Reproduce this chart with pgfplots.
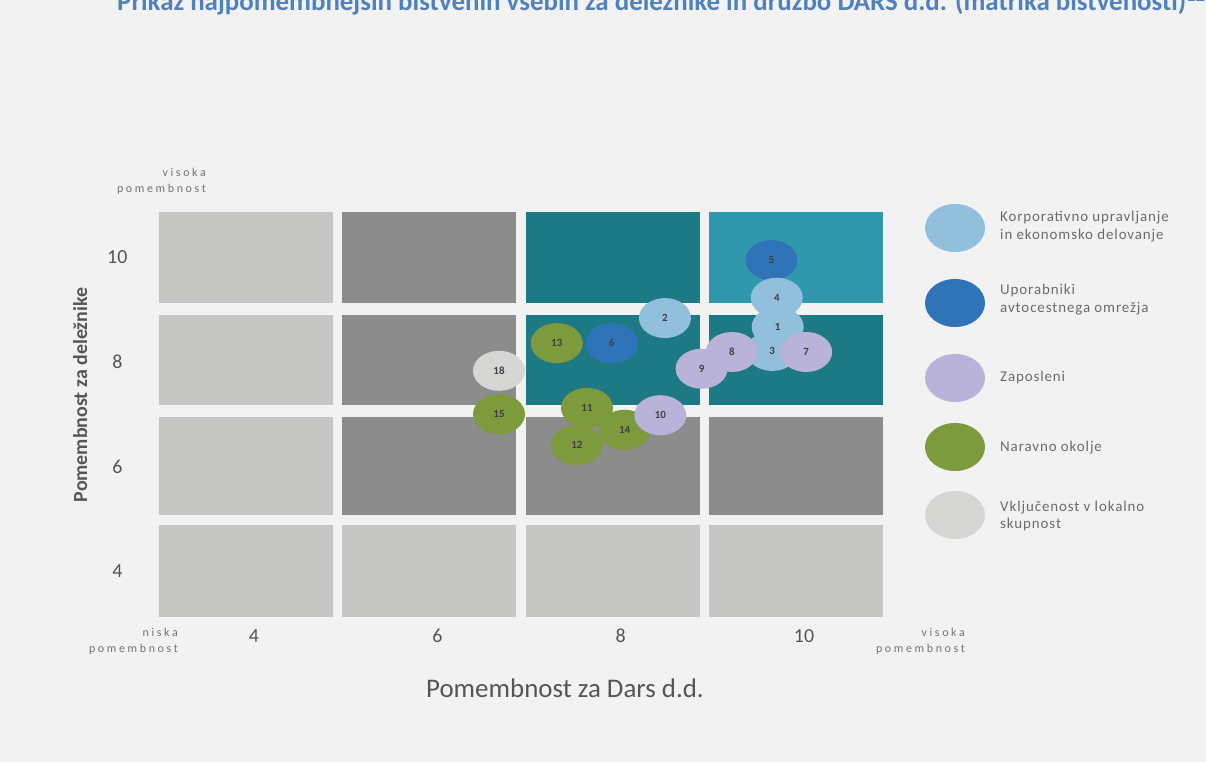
\documentclass[border=0pt]{standalone}
\usepackage{pgfplots}
\usepackage{pgfplotstable}
\pgfplotsset{compat=1.18}
\usepackage{fontspec}
\setmainfont{Carlito}

\definecolor{bg}{HTML}{F2F2F2}
\definecolor{titleblue}{HTML}{4F81BD}
\definecolor{tlight}{HTML}{C6C6C4}
\definecolor{tdark}{HTML}{8C8C8C}
\definecolor{tteal}{HTML}{1D7A84}
\definecolor{tteal2}{HTML}{2F98AC}
\definecolor{cCorp}{HTML}{92BFDC}
\definecolor{cUser}{HTML}{2F73B8}
\definecolor{cEmp}{HTML}{BAB3D9}
\definecolor{cEnv}{HTML}{7D9A3C}
\definecolor{cCom}{HTML}{D6D6D4}
\definecolor{txt}{HTML}{555555}
\definecolor{lgtxt}{HTML}{6B6B6B}

% bubble-shaped marker
\pgfdeclareplotmark{bubble}{%
  \pgfpathellipse{\pgfpointorigin}{\pgfqpoint{26bp}{0pt}}{\pgfqpoint{0pt}{20bp}}%
  \pgfusepathqfill}

% bubbles: x = pomembnost za DARS, y = pomembnost za deleznike
\pgfplotstableread{
x y lab
9.79 9.23 4
9.80 8.67 1
9.74 8.21 3
8.57 8.84 2
}\corp
\pgfplotstableread{
x y lab
9.73 9.95 5
7.99 8.36 6
}\users
\pgfplotstableread{
x y lab
10.11 8.19 7
9.30 8.19 8
8.97 7.87 9
8.52 6.98 10
}\emp
\pgfplotstableread{
x y lab
7.39 8.36 13
6.76 7.00 15
7.72 7.12 11
8.13 6.70 14
7.61 6.41 12
}\env
\pgfplotstableread{
x y lab
6.76 7.83 18
}\com

\begin{document}
\begin{tikzpicture}[x=1bp,y=1bp]
\fill[bg] (0,0) rectangle (1206,762);
\useasboundingbox (0,0) rectangle (1206,762);

% title, cut at the top like the scan
\node[anchor=base west, inner sep=0, text=titleblue,
      font=\fontsize{27}{27}\selectfont\bfseries] at (117,751)
  {Prikaz najpomembnejših bistvenih vsebin za deležnike in družbo DARS d.d. (matrika bistvenosti)\textsuperscript{12}};

\begin{axis}[
  at={(154.3bp,139bp)}, anchor=south west,
  scale only axis, width=733.4bp, height=417.7bp,
  xmin=3, xmax=11, ymin=3, ymax=11,
  clip=false,
  axis line style={draw=none},
  tick style={draw=none},
  xtick={4,6,8,10}, ytick={4,6,8,10},
  xticklabels={4,6,8,10},
  yticklabels={4,6,8,10},
  xticklabel style={anchor=center, yshift=-13bp, xshift=8bp,
    font=\fontsize{20}{20}\selectfont, text=txt},
  yticklabel style={anchor=center, xshift=-37bp,
    font=\fontsize{20}{20}\selectfont, text=txt},
  xlabel={Pomembnost za Dars d.d.},
  xlabel style={at={(axis description cs:0.56,-0.156)}, anchor=center,
    font=\fontsize{27}{27}\selectfont, text=txt},
  ylabel={Pomembnost za deležnike},
  ylabel style={at={(axis description cs:-0.101,0.546)}, anchor=center,
    font=\fontsize{20}{20}\selectfont\bfseries, text=txt},
  every node near coord/.style={anchor=center,
    font=\fontsize{11}{11}\selectfont\bfseries, text=black!75},
  nodes near coords, point meta=explicit symbolic,
]
% tiles
\addplot[fill=tlight, draw=none, forget plot] coordinates {(3.05,9.13) (4.95,9.13) (4.95,10.87) (3.05,10.87)};
\addplot[fill=tlight, draw=none, forget plot] coordinates {(3.05,7.18) (4.95,7.18) (4.95,8.90) (3.05,8.90)};
\addplot[fill=tlight, draw=none, forget plot] coordinates {(3.05,5.07) (4.95,5.07) (4.95,6.95) (3.05,6.95)};
\addplot[fill=tlight, draw=none, forget plot] coordinates {(3.05,3.11) (4.95,3.11) (4.95,4.88) (3.05,4.88)};
\addplot[fill=tdark, draw=none, forget plot] coordinates {(5.05,9.13) (6.95,9.13) (6.95,10.87) (5.05,10.87)};
\addplot[fill=tdark, draw=none, forget plot] coordinates {(5.05,7.18) (6.95,7.18) (6.95,8.90) (5.05,8.90)};
\addplot[fill=tdark, draw=none, forget plot] coordinates {(5.05,5.07) (6.95,5.07) (6.95,6.95) (5.05,6.95)};
\addplot[fill=tlight, draw=none, forget plot] coordinates {(5.05,3.11) (6.95,3.11) (6.95,4.88) (5.05,4.88)};
\addplot[fill=tteal, draw=none, forget plot] coordinates {(7.05,9.13) (8.95,9.13) (8.95,10.87) (7.05,10.87)};
\addplot[fill=tteal, draw=none, forget plot] coordinates {(7.05,7.18) (8.95,7.18) (8.95,8.90) (7.05,8.90)};
\addplot[fill=tdark, draw=none, forget plot] coordinates {(7.05,5.07) (8.95,5.07) (8.95,6.95) (7.05,6.95)};
\addplot[fill=tlight, draw=none, forget plot] coordinates {(7.05,3.11) (8.95,3.11) (8.95,4.88) (7.05,4.88)};
\addplot[fill=tteal2, draw=none, forget plot] coordinates {(9.05,9.13) (10.95,9.13) (10.95,10.87) (9.05,10.87)};
\addplot[fill=tteal, draw=none, forget plot] coordinates {(9.05,7.18) (10.95,7.18) (10.95,8.90) (9.05,8.90)};
\addplot[fill=tdark, draw=none, forget plot] coordinates {(9.05,5.07) (10.95,5.07) (10.95,6.95) (9.05,6.95)};
\addplot[fill=tlight, draw=none, forget plot] coordinates {(9.05,3.11) (10.95,3.11) (10.95,4.88) (9.05,4.88)};

% bubbles
\addplot[only marks, mark=bubble, color=cCom] table[meta=lab] {\com};
\addplot[only marks, mark=bubble, color=cEnv] table[meta=lab] {\env};
\addplot[only marks, mark=bubble, color=cUser] table[meta=lab] {\users};
\addplot[only marks, mark=bubble, color=cCorp] table[meta=lab] {\corp};
\addplot[only marks, mark=bubble, color=cEmp] table[meta=lab] {\emp};
\end{axis}

% corner notes
\begin{scope}[every node/.style={align=right, inner sep=0, text=black!55,
    font=\fontsize{12}{16}\selectfont\addfontfeatures{LetterSpace=22}}]
\node[anchor=east] at (206,581) {visoka\\pomembnost};
\node[anchor=east] at (178,121) {niska\\pomembnost};
\node[anchor=east] at (965,121) {visoka\\pomembnost};
\end{scope}

% legend
\begin{scope}[every node/.style={anchor=west, align=left, inner sep=0, text=lgtxt,
    font=\fontsize{15}{18}\selectfont\addfontfeatures{LetterSpace=6}}]
\fill[cCorp] (955,534) ellipse [x radius=30, y radius=24];
\node at (1000,535) {Korporativno upravljanje\\in ekonomsko delovanje};
\fill[cUser] (955,459) ellipse [x radius=30, y radius=24];
\node at (1000,462) {Uporabniki\\avtocestnega omrežja};
\fill[cEmp] (955,384) ellipse [x radius=30, y radius=24];
\node at (1000,384) {Zaposleni};
\fill[cEnv] (955,315) ellipse [x radius=30, y radius=24];
\node at (1000,314) {Naravno okolje};
\fill[cCom] (955,247) ellipse [x radius=30, y radius=24];
\node at (1000,246) {Vključenost v lokalno\\skupnost};
\end{scope}
\end{tikzpicture}
\end{document}
